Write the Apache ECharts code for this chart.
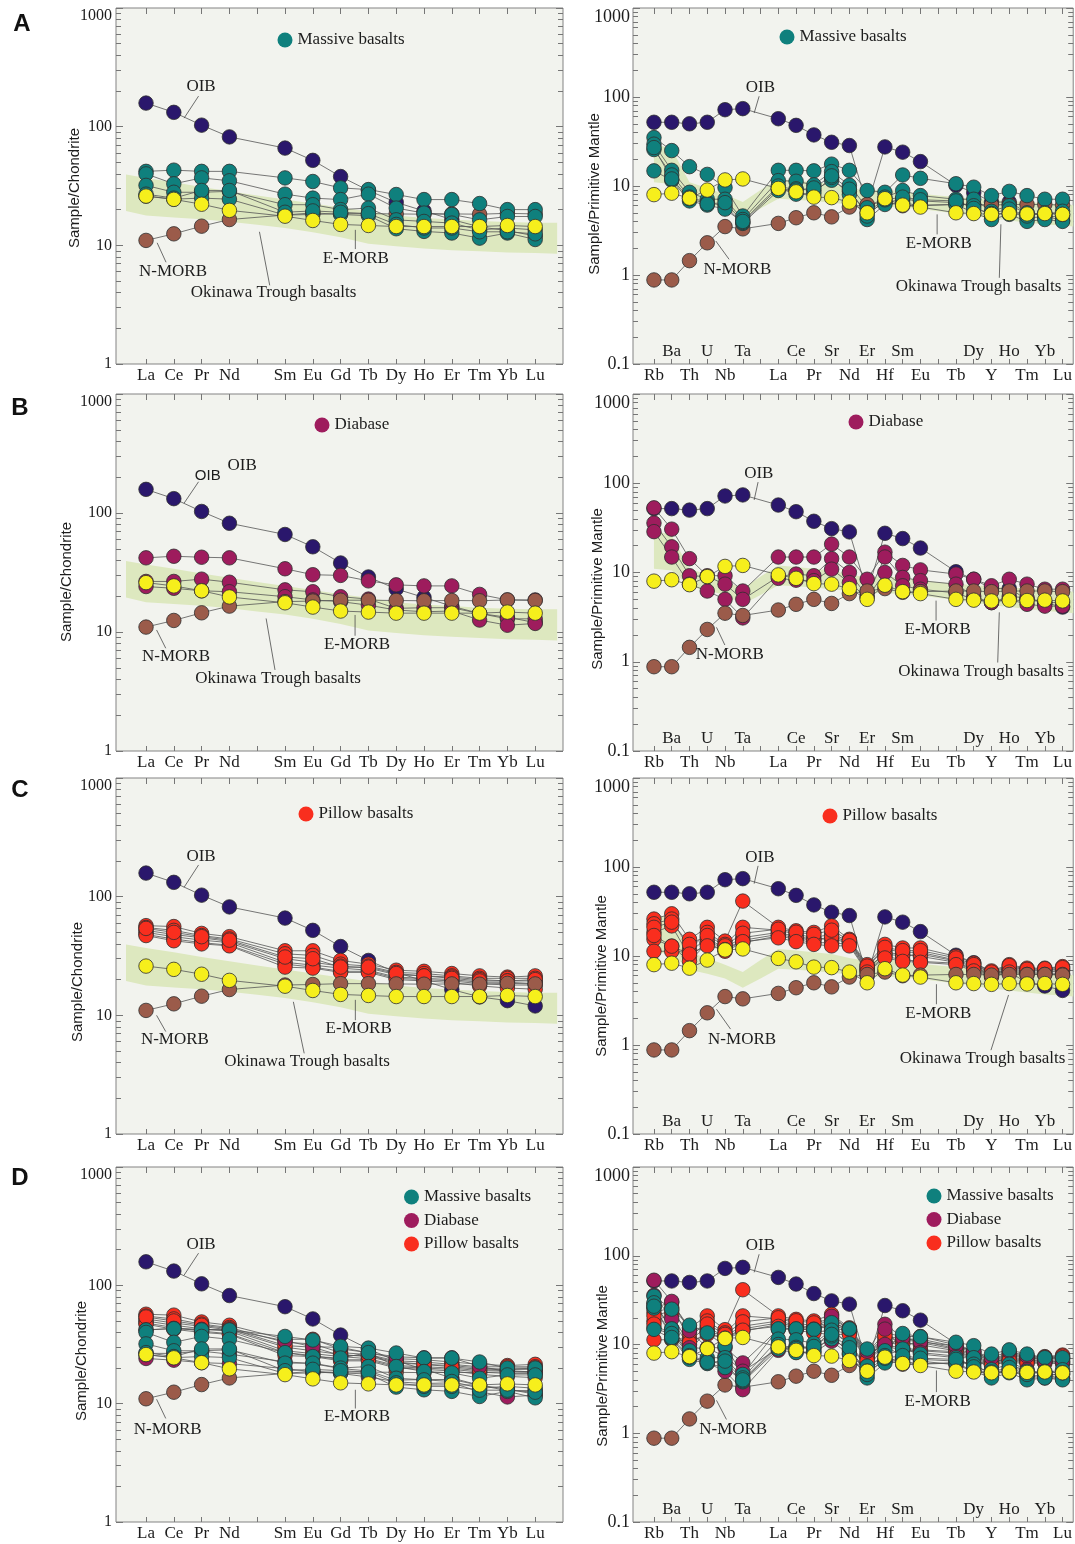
<!DOCTYPE html>
<html>
<head>
<meta charset="utf-8">
<script src="https://cdn.jsdelivr.net/npm/echarts@6/dist/echarts.min.js"></script>
<style>
  html, body { margin: 0; padding: 0; background: #ffffff; }
  #chart { width: 1075px; height: 1544px; }
</style>
</head>
<body>
<div id="chart"></div>
<script>
// ---------- element axes ----------
// Chondrite-normalised REE axis (Pm slot kept empty)
const REE_AXIS = ['La', 'Ce', 'Pr', 'Nd', '', 'Sm', 'Eu', 'Gd', 'Tb', 'Dy', 'Ho', 'Er', 'Tm', 'Yb', 'Lu'];
// Primitive-mantle-normalised spider axis (two unlabelled slots)
const SPIDER_AXIS = ['Rb', 'Ba', 'Th', 'U', 'Nb', 'Ta', '', 'La', 'Ce', 'Pr', 'Sr', 'Nd', 'Er', 'Hf', 'Sm', 'Eu', '', 'Tb', 'Dy', 'Y', 'Ho', 'Tm', 'Yb', 'Lu'];
// Spider labels printed on the upper (inner) row
const SPIDER_UPPER = ['Ba', 'U', 'Ta', 'Ce', 'Sr', 'Er', 'Sm', 'Dy', 'Ho', 'Yb'];
// Y tick labels
const REE_TICKS = [1, 10, 100, 1000];
const PM_TICKS = [0.1, 1, 10, 100, 1000];

// ---------- reference compositions (REE order: La Ce Pr Nd Sm Eu Gd Tb Dy Ho Er Tm Yb Lu) ----------
const OIB_REE   = [158, 132, 103, 82, 66, 52, 38, 29, 23, 19.5, 16.5, 14.3, 13.3, 12];
const NMORB_REE = [11, 12.5, 14.5, 16.5, 18, 18.2, 18.5, 18.5, 18.4, 18.3, 18.4, 18.3, 18.6, 18.4];
const EMORB_REE = [26, 24.4, 22.2, 19.7, 17.6, 16.2, 15, 14.7, 14.4, 14.4, 14.4, 14.4, 14.7, 14.4];

// ---------- reference compositions (spider order: Rb Ba Th U Nb Ta La Ce Pr Sr Nd Er Hf Sm Eu Tb Dy Y Ho Tm Yb Lu) ----------
const OIB_PM   = [52, 52, 50, 52, 72, 74, 57, 48, 37.5, 31, 28.5, 6, 27.5, 24, 18.8, 10.2, 8.4, 6.6, 6.6, 5, 4.6, 4.1];
const NMORB_PM = [0.88, 0.88, 1.45, 2.3, 3.5, 3.3, 3.8, 4.4, 5, 4.5, 5.8, 6.2, 6.6, 6, 6.1, 6.2, 6.2, 6.1, 6.2, 6.2, 6.2, 6.1];
const EMORB_PM = [8, 8.3, 7.3, 9, 11.7, 12, 9.4, 8.6, 7.5, 7.4, 6.6, 5, 7.2, 6.1, 5.8, 5, 4.9, 4.8, 4.9, 4.85, 4.9, 4.8];

// ---------- Okinawa Trough basalt field ----------
const OKINAWA_REE_X  = [-0.72, 0, 1, 2, 3, 4, 5, 6, 7, 8, 9, 10, 11, 12, 13, 14, 14.79];
const OKINAWA_REE_HI = [39.5, 37, 34, 31, 28.5, 26.3, 24.3, 22.5, 20.8, 19.4, 17.8, 17, 16.5, 16, 15.7, 15.5, 15.5];
const OKINAWA_REE_LO = [19.5, 17.8, 17.2, 16.6, 15.8, 14.9, 14, 12.9, 11.7, 10.3, 9.8, 9.4, 9.1, 8.9, 8.7, 8.6, 8.5];
const OKINAWA_PM_X  = [0, 1, 2, 3, 4, 5, 6, 7, 8, 9, 10, 11, 12, 13, 14, 15, 16, 17, 18, 19, 20, 21, 22, 23, 23.6];
const OKINAWA_PM_HI = [30, 26, 11, 9.5, 8, 6.6, 9, 12, 11.5, 11, 10.5, 9.5, 8.8, 9.2, 8.6, 8.2, 7.8, 7.5, 7.2, 7, 6.8, 6.6, 6.4, 6.2, 6.1];
const OKINAWA_PM_LO = [11, 10.5, 7, 6.3, 5.6, 4.4, 5.6, 7.2, 7, 6.8, 6.5, 6.2, 5.8, 5.9, 5.7, 5.5, 5.2, 4.9, 4.6, 4.3, 4.1, 3.9, 3.7, 3.6, 3.5];

// ---------- samples: massive basalts ----------
const MASSIVE_REE = [
  [42, 43, 42, 42, 37, 34.5, 30.5, 29.5, 26.8, 24.3, 24.3, 22.5, 20, 20],
  [40, 33, 37, 35, 27, 25, 24.3, 27, 20.6, 18.7, 18.2, 16.4, 17.5, 17.5],
  [32, 28, 28, 28.5, 22, 22, 20, 20.6, 16.4, 15.9, 15.4, 13.5, 14, 13.5],
  [26, 24.5, 25, 24.5, 18, 18.8, 18.2, 17.8, 13.8, 13.1, 12.7, 11.5, 12.7, 11.2],
  [27, 25, 29, 29, 19, 19.5, 19, 18.5, 15, 14, 14, 13, 13, 12.5]
];
const MASSIVE_PM = [
  [35, 25, 16.5, 13.5, 9.6, 4.6, 15, 15, 14.8, 17.6, 15, 8.9, 8.5, 13.3, 12.2, 10.6, 9.7, 7.8, 8.7, 7.8, 7.1, 7.1],
  [29.5, 15, 8.5, 7.1, 7.1, 4.2, 11.5, 11.3, 10.3, 14.5, 10.2, 5.7, 7.5, 8.9, 7.8, 7.1, 7.1, 5.2, 6, 5, 4.8, 5.2],
  [25.7, 13.3, 7.5, 6.5, 6, 3.8, 8.9, 9.3, 8.9, 11.6, 8.7, 5, 6.5, 7.1, 6.8, 6.5, 6, 4.6, 5.2, 4.4, 4.5, 4.6],
  [14.8, 11.6, 6.8, 6.1, 5.5, 3.9, 9.5, 8.1, 8.3, 12.5, 8, 4.2, 6.2, 6.5, 6, 6.2, 5, 4.2, 4.8, 4, 4.2, 4],
  [27, 12, 7.2, 6.3, 6.5, 4, 10, 9, 9.5, 13, 9.2, 4.6, 7, 7.5, 7, 6.8, 5.6, 4.9, 5.5, 4.6, 5, 4.8]
];

// ---------- samples: diabase ----------
const DIABASE_REE = [
  [42, 43.3, 42.5, 42, 34, 30.3, 29.9, 26.9, 24.9, 24.4, 24.4, 20.7, 18.6, 18.6],
  [26.6, 26.6, 27.8, 26.2, 22.6, 21.8, 19.8, 18.9, 15.8, 16, 16, 14.3, 12.9, 12.9],
  [24.1, 23.3, 22.2, 21.8, 19.8, 18.6, 18, 16.8, 15.3, 14.8, 15, 12.6, 11.4, 11.8]
];
const DIABASE_PM = [
  [53, 30.6, 14.3, 9.2, 9.2, 6.2, 14.9, 14.9, 14.9, 20.8, 14.9, 8.4, 16.9, 12, 10.7, 9.6, 8.4, 7.1, 8.4, 7.4, 6.5, 6.5],
  [35.8, 19.4, 9.2, 9, 7.4, 5, 9, 9.6, 9.2, 14.3, 10, 5.4, 14.9, 8.8, 8.1, 7.4, 5.4, 4.6, 5.4, 5.2, 4.6, 4.6],
  [28.7, 14.9, 7.4, 6.2, 5, 3.1, 8.6, 8.2, 8.1, 10.9, 7.7, 5.2, 10, 7.1, 6.5, 5.9, 5, 4.6, 5, 4.4, 4.2, 4.2]
];

// ---------- samples: pillow basalts ----------
const PILLOW_REE = [
  [57, 56, 49, 46, 35, 35, 29, 27, 24, 23.5, 22.5, 21.5, 21, 21.5],
  [55, 52, 47, 44, 33, 32, 27, 26, 23, 22.5, 21.5, 20.5, 20.5, 20.5],
  [52, 48, 45, 42, 30, 28, 26, 25, 22, 21.5, 21, 20, 19.5, 19.5],
  [50, 46, 43, 41, 28, 26.5, 25, 24, 21, 20.5, 20, 19, 19, 18.5],
  [48, 44, 41, 39, 27, 25.5, 23.5, 23.5, 20.5, 20, 19.5, 18.5, 18, 18],
  [47, 42.5, 40, 38.5, 25.5, 25, 23, 23, 20, 19.5, 18.9, 17.7, 17, 16.6],
  [54, 50, 46, 43, 31, 30, 25.5, 25.5, 22.5, 21.5, 20.5, 19.5, 19.5, 20]
];
const PILLOW_PM = [
  [26, 29.8, 15.4, 21, 14.7, 41.4, 21, 19.2, 18.4, 21.8, 15.4, 8, 13.5, 12.3, 12.3, 9.9, 8.3, 6.8, 8, 7.3, 7.3, 7.6],
  [23, 26, 11.8, 18.4, 13.5, 21, 19.5, 17.6, 16.1, 17.6, 14.8, 7.5, 12, 11, 11, 9, 7.8, 6.5, 7.5, 7, 7, 7.2],
  [18.4, 21.8, 9.9, 14.1, 12.5, 16.1, 18.4, 16.5, 15.5, 15.5, 14.1, 7, 11, 10.4, 9.9, 8.5, 7.2, 6.2, 7, 6.6, 6.6, 6.8],
  [15.4, 12.9, 8.7, 14.1, 11.3, 14.1, 16.8, 15.4, 14.1, 14.1, 13.5, 6.8, 9.9, 9.1, 8.7, 8.3, 7, 6, 6.8, 6.4, 6.4, 6.4],
  [11.3, 11.3, 11, 16, 12, 15, 17.5, 16, 15, 16.5, 14.5, 7.2, 10.5, 10, 10.5, 8.8, 7.5, 6.3, 7.2, 6.8, 6.9, 7],
  [21, 24, 13.5, 17, 13, 18, 20, 18.5, 17.5, 19.5, 15, 7.7, 12.5, 11.5, 11.5, 9.5, 8, 6.6, 7.8, 7.1, 7.2, 7.4],
  [17, 12.9, 10.5, 13, 11.8, 14.5, 16, 14.5, 13.5, 13, 13, 6.6, 9.5, 8.7, 8.5, 8, 6.8, 5.8, 6.6, 6.2, 6.2, 6.2]
];

// ---------- styling ----------
const SERIF = "'Liberation Serif', 'Times New Roman', serif";
const SANS = "'Liberation Sans', Arial, sans-serif";
const INK = '#1c1c1c';
const TICK = '#767676';
const FRAME = '#838383';
const PLOT_BG = '#f2f3ee';
const BAND_FILL = '#dde8bf';
const LINE_INK = '#555555';
const MARKER_EDGE = '#2e2e2e';
const COLORS = {
  oib: '#2a176c', nmorb: '#9b5b4a', emorb: '#f6ef1c',
  massive: '#0f807d', diabase: '#9e1c5d', pillow: '#f92e1e'
};
const GROUPS = {
  massive: { name: 'Massive basalts', color: COLORS.massive, ree: MASSIVE_REE, pm: MASSIVE_PM },
  diabase: { name: 'Diabase', color: COLORS.diabase, ree: DIABASE_REE, pm: DIABASE_PM },
  pillow:  { name: 'Pillow basalts', color: COLORS.pillow, ree: PILLOW_REE, pm: PILLOW_PM }
};

const ROW_TOP = [8, 394, 778, 1167];
const ROW_H = [356, 357, 356, 355];
const LAYOUT = {
  ree: { left: 116, width: 447, xMin: -1.08, xMax: 15, yMin: 1, yMax: 1000, yFont: 16, yMargin: 4,
         axis: REE_AXIS, ticks: REE_TICKS, title: 'Sample/Chondrite',
         ref: { oib: OIB_REE, nmorb: NMORB_REE, emorb: EMORB_REE },
         band: { x: OKINAWA_REE_X, hi: OKINAWA_REE_HI, lo: OKINAWA_REE_LO } },
  pm:  { left: 633, width: 441, xMin: -1.18, xMax: 23.6, yMin: 0.1, yMax: 1000, yFont: 18, yMargin: 3,
         axis: SPIDER_AXIS, ticks: PM_TICKS, title: 'Sample/Primitive Mantle',
         ref: { oib: OIB_PM, nmorb: NMORB_PM, emorb: EMORB_PM },
         band: { x: OKINAWA_PM_X, hi: OKINAWA_PM_HI, lo: OKINAWA_PM_LO } }
};

// Panels: legend placement, axis-title placement, stacking of the N-MORB profile
// and annotation text (in axis units)
const PANELS = [
  { kind: 'ree', row: 0, letter: 'A', band: true, groups: ['massive'], nmorbOnTop: false,
    legend: { left: 277.5, top: 31.5, gap: 5 }, title: [75, 188],
    notes: [
      { text: 'OIB', at: [1.98, 216], lead: [[1.89, 181], [1.37, 118]] },
      { text: 'N-MORB', at: [0.97, 6.07], lead: [[0.72, 7.2], [0.4, 10.5]] },
      { text: 'E-MORB', at: [7.55, 7.8], lead: [[7.53, 9.3], [7.53, 13.5]] },
      { text: 'Okinawa Trough basalts', at: [4.59, 3.97], lead: [[4.45, 4.6], [4.08, 13.0]] }
    ] },
  { kind: 'pm', row: 0, band: true, groups: ['massive'], nmorbOnTop: false,
    legend: { left: 779.5, top: 28.5, gap: 5 }, title: [595, 194],
    notes: [
      { text: 'OIB', at: [5.99, 129], lead: [[5.92, 102], [5.64, 66]] },
      { text: 'N-MORB', at: [4.70, 1.16], lead: [[4.23, 1.5], [3.48, 2.41]] },
      { text: 'E-MORB', at: [16.03, 2.27], lead: [[15.94, 2.86], [15.94, 4.8]] },
      { text: 'Okinawa Trough basalts', at: [18.27, 0.75], lead: [[19.44, 0.93], [19.53, 3.71]] }
    ] },
  { kind: 'ree', row: 1, letter: 'B', band: true, groups: ['diabase'], nmorbOnTop: true,
    legend: { left: 314.5, top: 416.5, gap: 6 }, title: [67, 582],
    notes: [
      { text: 'OIB', at: [2.22, 206], sans: true, lead: [[1.89, 183], [1.37, 121]] },
      { text: 'OIB', at: [3.46, 250] },
      { text: 'N-MORB', at: [1.08, 6.2], lead: [[0.71, 7.3], [0.38, 10.4]] },
      { text: 'E-MORB', at: [7.59, 7.8], lead: [[7.52, 9.3], [7.52, 13.9]] },
      { text: 'Okinawa Trough basalts', at: [4.75, 4.08], lead: [[4.64, 4.8], [4.32, 13.0]] }
    ] },
  { kind: 'pm', row: 1, band: true, groups: ['diabase'], nmorbOnTop: true,
    legend: { left: 848.5, top: 413.5, gap: 6 }, title: [598, 589],
    notes: [
      { text: 'OIB', at: [5.9, 130], lead: [[5.86, 103], [5.64, 65]] },
      { text: 'N-MORB', at: [4.27, 1.19], lead: [[3.99, 1.54], [3.52, 2.43]] },
      { text: 'E-MORB', at: [15.97, 2.29], lead: [[15.88, 2.89], [15.88, 4.84]] },
      { text: 'Okinawa Trough basalts', at: [18.41, 0.77], lead: [[19.35, 0.98], [19.44, 3.58]] }
    ] },
  { kind: 'ree', row: 2, letter: 'C', band: true, groups: ['pillow'], nmorbOnTop: true,
    legend: { left: 298.5, top: 805.5, gap: 3 }, title: [78, 982],
    notes: [
      { text: 'OIB', at: [1.98, 217], lead: [[1.89, 185], [1.37, 120]] },
      { text: 'N-MORB', at: [1.04, 6.2], lead: [[0.71, 7.3], [0.38, 10]] },
      { text: 'E-MORB', at: [7.65, 7.8], lead: [[7.53, 9.1], [7.53, 13.5]] },
      { text: 'Okinawa Trough basalts', at: [5.79, 4.07], lead: [[5.69, 4.78], [5.3, 13.0]] }
    ] },
  { kind: 'pm', row: 2, band: true, groups: ['pillow'], nmorbOnTop: true,
    legend: { left: 822.5, top: 807.5, gap: 3 }, title: [602, 976],
    notes: [
      { text: 'OIB', at: [5.96, 129], lead: [[5.86, 103], [5.64, 65]] },
      { text: 'N-MORB', at: [4.96, 1.16], lead: [[4.31, 1.51], [3.52, 2.52]] },
      { text: 'E-MORB', at: [16.01, 2.27], lead: [[15.9, 2.87], [15.9, 4.82]] },
      { text: 'Okinawa Trough basalts', at: [18.5, 0.71], lead: [[18.97, 0.875], [19.96, 3.65]] }
    ] },
  { kind: 'ree', row: 3, letter: 'D', band: false, groups: ['pillow', 'diabase', 'massive'], nmorbOnTop: false,
    legend: { left: 404, top: 1188.5, gap: 5 }, title: [82, 1361],
    notes: [
      { text: 'OIB', at: [1.98, 222], lead: [[1.89, 187], [1.37, 122]] },
      { text: 'N-MORB', at: [0.78, 6.08], lead: [[0.71, 7.5], [0.38, 10.9]] },
      { text: 'E-MORB', at: [7.59, 7.77], lead: [[7.53, 9.1], [7.53, 13.1]] }
    ] },
  { kind: 'pm', row: 3, band: false, groups: ['pillow', 'diabase', 'massive'], nmorbOnTop: false,
    legend: { left: 926.5, top: 1187.5, gap: 2 }, title: [603, 1366],
    notes: [
      { text: 'OIB', at: [5.99, 129], lead: [[5.92, 104], [5.64, 65]] },
      { text: 'N-MORB', at: [4.46, 1.1], lead: [[4.08, 1.43], [3.52, 2.35]] },
      { text: 'E-MORB', at: [15.97, 2.3], lead: [[15.9, 2.91], [15.9, 5.1]] }
    ] }
];

const LETTER_POS = { A: [22, 24], B: [20, 408], C: [20, 790], D: [20, 1178] };

// ---------- option assembly ----------
const grid = [], xAxis = [], yAxis = [], series = [], legend = [], graphic = [];

function minorTicks(lo, hi) {
  const out = [];
  for (let d = lo; d < hi * 0.999; d *= 10) {
    for (let k = 2; k <= 9; k++) out.push(+(d * k).toPrecision(3));
  }
  return out;
}

function tickStyle(len, values) {
  return { show: true, inside: true, length: len, customValues: values, lineStyle: { color: TICK, width: 1 } };
}

const NO_LINE = { show: false, onZero: false };

function addPanel(p) {
  const L = LAYOUT[p.kind];
  const gi = grid.length;
  grid.push({
    left: L.left, top: ROW_TOP[p.row], width: L.width, height: ROW_H[p.row],
    show: true, backgroundColor: PLOT_BG, borderColor: FRAME, borderWidth: 1
  });

  const names = L.axis;
  const allPos = names.map((_, i) => i);
  const upper = p.kind === 'pm' ? SPIDER_UPPER : [];
  const lowerPos = allPos.filter(i => names[i] && upper.indexOf(names[i]) < 0);
  const upperPos = allPos.filter(i => upper.indexOf(names[i]) >= 0);
  const fmt = v => names[Math.round(v)] || '';
  const labelFont = { color: INK, fontFamily: SERIF, fontSize: 17 };

  const xb = { type: 'value', gridIndex: gi, min: L.xMin, max: L.xMax,
               axisLine: NO_LINE, splitLine: { show: false } };
  const xIdx = xAxis.length;
  xAxis.push(Object.assign({}, xb, { position: 'bottom', axisTick: tickStyle(5, allPos),
    axisLabel: Object.assign({ show: true, customValues: lowerPos, formatter: fmt, margin: 3 }, labelFont) }));
  xAxis.push(Object.assign({}, xb, { position: 'top', axisTick: tickStyle(6, allPos), axisLabel: { show: false } }));
  if (upperPos.length) {
    xAxis.push(Object.assign({}, xb, { position: 'bottom', axisTick: { show: false },
      axisLabel: Object.assign({ show: true, inside: true, customValues: upperPos, formatter: fmt, margin: 4 }, labelFont) }));
  }

  const minors = minorTicks(L.yMin, L.yMax);
  const yb = { type: 'log', logBase: 10, gridIndex: gi, min: L.yMin, max: L.yMax,
               axisLine: NO_LINE, splitLine: { show: false } };
  const yIdx = yAxis.length;
  yAxis.push(Object.assign({}, yb, { position: 'left', axisTick: tickStyle(7, L.ticks),
    axisLabel: { show: true, customValues: L.ticks, formatter: v => String(+(+v).toPrecision(3)),
                 margin: L.yMargin, color: INK, fontFamily: SERIF, fontSize: L.yFont,
                 verticalAlignMaxLabel: 'top' } }));
  yAxis.push(Object.assign({}, yb, { position: 'left', axisTick: tickStyle(5, minors), axisLabel: { show: false } }));
  yAxis.push(Object.assign({}, yb, { position: 'right', axisTick: tickStyle(7, L.ticks), axisLabel: { show: false } }));
  yAxis.push(Object.assign({}, yb, { position: 'right', axisTick: tickStyle(5, minors), axisLabel: { show: false } }));

  const positions = allPos.filter(i => names[i]);

  // Okinawa Trough field
  if (p.band) {
    const b = L.band;
    series.push({
      type: 'custom', xAxisIndex: xIdx, yAxisIndex: yIdx, z: 1, silent: true, animation: false,
      data: b.x.map((x, i) => [x, b.lo[i], b.hi[i]]),
      encode: { x: 0, y: [1, 2] },
      renderItem: (params, api) => {
        if (params.dataIndex !== 0) return null;
        const top = b.x.map((x, i) => api.coord([x, b.hi[i]]));
        const bot = b.x.map((x, i) => api.coord([x, b.lo[i]])).reverse();
        return { type: 'polygon', shape: { points: top.concat(bot) }, style: { fill: BAND_FILL } };
      }
    });
  }

  function profile(values, color, name) {
    const data = values.map((v, i) => [positions[i], v]);
    series.push({ type: 'line', xAxisIndex: xIdx, yAxisIndex: yIdx, data, symbol: 'none',
      lineStyle: { color: LINE_INK, width: 0.8 }, z: 2, silent: true, animation: false });
    const s = { type: 'scatter', xAxisIndex: xIdx, yAxisIndex: yIdx, data, symbol: 'circle', symbolSize: 14.5,
      itemStyle: { color, borderColor: MARKER_EDGE, borderWidth: 0.8, opacity: 1 }, z: 3, silent: true, animation: false };
    if (name) s.name = name;
    series.push(s);
  }

  profile(L.ref.oib, COLORS.oib);
  if (!p.nmorbOnTop) profile(L.ref.nmorb, COLORS.nmorb);
  p.groups.forEach(g => {
    const grp = GROUPS[g];
    grp[p.kind].forEach(vals => profile(vals, grp.color, grp.name));
  });
  if (p.nmorbOnTop) profile(L.ref.nmorb, COLORS.nmorb);
  profile(L.ref.emorb, COLORS.emorb);

  // Annotations with leader lines
  const notes = p.notes;
  series.push({
    type: 'custom', xAxisIndex: xIdx, yAxisIndex: yIdx, z: 5, silent: true, animation: false, clip: false,
    data: notes.map(n => n.at),
    renderItem: (params, api) => {
      const n = notes[params.dataIndex];
      const c = api.coord(n.at);
      const children = [{
        type: 'text', x: c[0], y: c[1],
        style: { text: n.text, fill: INK, align: 'center', verticalAlign: 'middle',
                 font: n.sans ? ('15px ' + SANS) : ('17px ' + SERIF) }
      }];
      if (n.lead) {
        const a = api.coord(n.lead[0]), b = api.coord(n.lead[1]);
        children.push({ type: 'line', shape: { x1: a[0], y1: a[1], x2: b[0], y2: b[1] },
                        style: { stroke: '#4a4a4a', lineWidth: 0.8 } });
      }
      return { type: 'group', children };
    }
  });

  // Legend
  const legendOrder = ['massive', 'diabase', 'pillow'].filter(g => p.groups.indexOf(g) >= 0);
  legend.push({
    left: p.legend.left, top: p.legend.top, orient: 'vertical', padding: 0,
    itemWidth: 15, itemHeight: 15, itemGap: 6.5, itemTextGap: p.legend.gap, icon: 'circle',
    selectedMode: false, data: legendOrder.map(g => GROUPS[g].name),
    itemStyle: { borderWidth: 0 },
    textStyle: { fontFamily: SERIF, fontSize: 17, color: INK }
  });

  // Axis title
  graphic.push({
    type: 'text', x: p.title[0], y: p.title[1], rotation: Math.PI / 2, silent: true,
    style: { text: L.title, fill: INK, font: '15px ' + SANS, align: 'center', verticalAlign: 'middle' }
  });

  if (p.letter) {
    const lp = LETTER_POS[p.letter];
    graphic.push({
      type: 'text', x: lp[0], y: lp[1], silent: true,
      style: { text: p.letter, fill: '#111111', font: 'bold 24px ' + SANS, align: 'center', verticalAlign: 'middle' }
    });
  }
}

PANELS.forEach(addPanel);

const chart = echarts.init(document.getElementById('chart'), null, { renderer: 'canvas' });
chart.setOption({
  backgroundColor: '#ffffff',
  animation: false,
  grid, xAxis, yAxis, series, legend, graphic
});
</script>
</body>
</html>
